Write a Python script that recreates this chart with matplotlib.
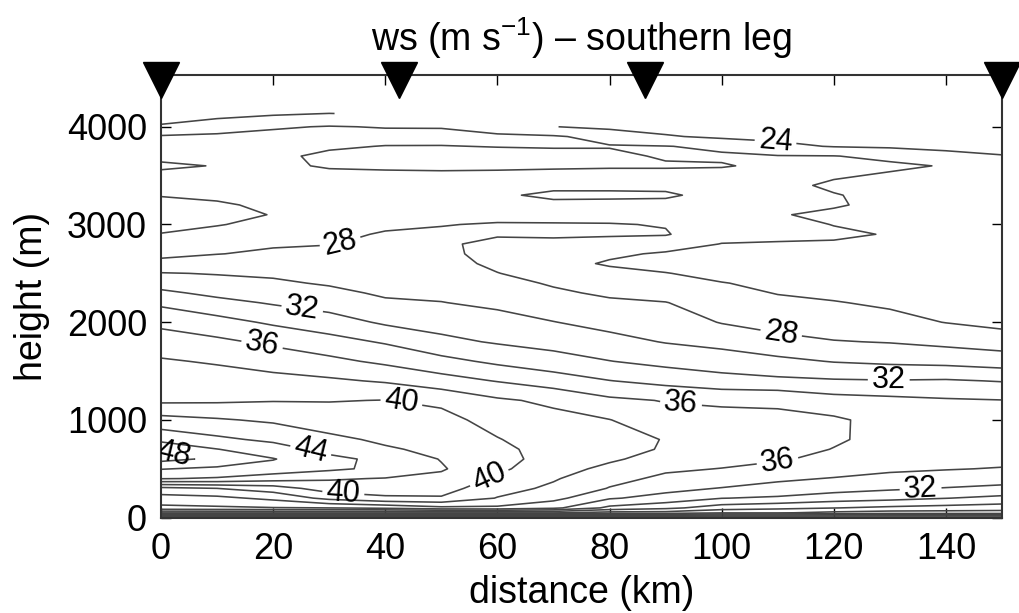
import numpy as np
import matplotlib
matplotlib.use('Agg')
import matplotlib.pyplot as plt

plt.rcParams['font.family'] = ['Liberation Sans', 'DejaVu Sans']
plt.rcParams['mathtext.fontset'] = 'custom'
plt.rcParams['mathtext.rm'] = 'Liberation Sans'
plt.rcParams['mathtext.default'] = 'regular'

# grid: wind speed (m/s) profiles along the leg
distance_km = [0, 10, 20, 30, 40, 50, 60, 70, 80, 90, 100, 110, 120, 130, 140, 150]
height_m = [0, 50, 100, 200, 300, 400, 500, 600, 700, 800, 1000, 1200, 1400, 1600,
            1800, 2000, 2200, 2300, 2400, 2500, 2600, 2700, 2800, 2900, 3000, 3100,
            3200, 3300, 3400, 3500, 3600, 3700, 3800, 3900, 4000, 4150]
nan = np.nan
ws_profiles = [
    # 0 km
    [17, 28.2, 33.5, 35.2, 37.4, 44.1, 46.1, 48.6, 47.8, 45.4, 42.7, 39.6, 39.0, 38.2,
     37.0, 35.5, 33.6, 32.4, 31.2, 30.1, 28.6, 27.5, 26.8, 26.05, 25.6, 25.5,
     25.7, 26.05, 26.5, 26.3, 25.8, 26.3, 26.4, 26.2, 24.3, 22.5],
    # 10 km
    [17, 28.2, 33.7, 35.5, 38.0, 43.8, 45.6, 47.6, 46.05, 44.4, 42.2, 39.7, 38.9, 37.8,
     36.4, 34.7, 32.6, 31.5, 30.6, 29.9, 29.0, 27.95, 27.3, 26.6, 25.9, 25.6,
     25.8, 26.3, 26.6, 26.6, 26.05, 26.5, 26.6, 26.4, 25.0, 23.2],
    # 20 km
    [17, 28.2, 33.9, 36.5, 39.0, 42.9, 45.2, 46.1, 44.9, 43.6, 41.7, 39.9, 38.6, 37.2,
     35.6, 33.7, 31.8, 31.0, 30.3, 29.7, 29.0, 28.3, 27.8, 27.2, 26.5, 26.05,
     26.3, 26.6, 26.8, 26.8, 26.4, 26.3, 26.6, 26.5, 25.8, 23.5],
    # 30 km
    [17, 28.2, 34.0, 38.6, 41.0, 42.2, 44.4, 44.5, 43.4, 42.4, 41.1, 39.9, 38.3, 36.5,
     34.7, 32.9, 31.1, 30.5, 29.8, 29.3, 28.8, 28.4, 27.95, 27.6, 27.2, 26.9,
     26.8, 26.9, 26.9, 26.5, 25.8, 25.7, 26.2, 26.4, 26.1, 23.8],
    # 40 km
    [17, 28.2, 34.5, 39.7, 40.9, 41.9, 43.5, 43.5, 42.2, 41.7, 40.7, 40.05, 37.8, 35.6,
     33.8, 31.7, 30.3, 29.7, 29.4, 29.1, 28.8, 28.6, 28.3, 28.15, 27.7, 27.3,
     27.1, 27.2, 27.0, 26.4, 25.7, 25.6, 25.95, 26.6, 25.9, nan],
    # 50 km
    [17, 28.2, 35.5, 39.8, 40.8, 41.5, 42.2, 41.9, 41.6, 41.2, 40.6, 39.6, 36.8, 34.6,
     32.5, 31.2, 30.05, 29.6, 29.3, 29.0, 28.7, 28.5, 28.3, 28.2, 27.95, 27.5,
     27.3, 27.5, 27.3, 26.4, 25.6, 25.6, 25.95, 26.5, 25.9, nan],
    # 60 km
    [17, 28.2, 35.6, 37.9, 38.8, 39.7, 40.4, 40.8, 40.5, 40.1, 39.3, 38.3, 35.9, 33.6,
     31.8, 30.7, 29.6, 29.0, 28.6, 28.05, 27.6, 27.3, 27.5, 28.2, 28.1, 27.6,
     27.4, 27.7, 27.4, 26.5, 25.6, 25.5, 26.05, 26.3, 25.2, nan],
    # 70 km
    [17, 28.2, 34.5, 36.6, 37.6, 38.2, 38.8, 39.1, 39.2, 39.0, 38.6, 37.6, 35.0, 32.8,
     31.3, 30.05, 28.9, 28.3, 27.8, 27.2, 26.6, 26.8, 27.5, 28.3, 28.1, 27.5,
     27.5, 28.4, 27.5, 26.6, 25.7, 25.6, 26.1, 26.2, 24.05, nan],
    # 80 km
    [17, 27.2, 31.5, 34.2, 35.9, 36.6, 37.5, 38.3, 38.8, 38.8, 38.05, 36.4, 34.05, 32.05,
     30.6, 29.4, 28.3, 27.7, 27.0, 26.5, 25.8, 26.3, 27.0, 28.3, 28.1, 27.3,
     27.4, 28.4, 27.5, 26.6, 25.8, 25.6, 26.1, 25.4, 23.5, nan],
    # 90 km
    [17, 27.2, 30.5, 33.3, 34.6, 35.6, 36.3, 37.2, 37.8, 37.9, 36.8, 35.9, 33.4, 31.4,
     29.9, 29.0, 28.05, 27.4, 26.7, 26.05, 25.5, 25.8, 26.8, 28.15, 27.9, 27.2,
     27.4, 28.3, 27.5, 26.6, 25.8, 26.2, 26.05, 24.2, 23.2, nan],
    # 100 km
    [17, 26.2, 29.0, 32.05, 33.9, 35.2, 35.95, 36.6, 37.0, 37.1, 36.6, 35.7, 32.7, 31.0,
     29.4, 27.9, 27.2, 26.7, 26.05, 25.6, 25.3, 25.5, 25.95, 26.6, 27.0, 26.9,
     27.0, 27.3, 27.0, 26.5, 25.9, 26.2, 25.7, 23.6, 23.0, nan],
    # 110 km
    [17, 26.2, 28.5, 31.7, 33.4, 34.3, 35.4, 36.2, 36.6, 36.8, 36.4, 35.7, 32.4, 30.5,
     28.5, 27.4, 26.5, 25.9, 25.7, 25.5, 25.4, 25.6, 25.9, 26.3, 26.6, 26.1,
     26.5, 26.6, 26.5, 26.4, 26.3, 26.1, 24.4, 23.6, 23.2, nan],
    # 120 km
    [17, 25.5, 28.05, 31.0, 32.8, 33.9, 34.8, 35.5, 35.95, 36.2, 36.3, 34.8, 32.2, 29.9,
     28.1, 26.9, 26.1, 25.6, 25.4, 25.3, 25.3, 25.5, 25.8, 26.3, 25.95, 25.7,
     26.15, 26.1, 25.7, 26.2, 26.4, 26.05, 23.9, 23.4, 23.0, nan],
    # 130 km
    [17, 25.1, 27.6, 30.6, 32.3, 33.5, 34.3, 34.9, 35.3, 35.5, 35.3, 34.5, 32.1, 29.6,
     27.9, 26.6, 25.7, 25.5, 25.3, 25.2, 25.2, 25.3, 25.5, 25.9, 25.6, 25.5,
     25.6, 25.5, 25.4, 25.8, 26.3, 25.6, 23.7, 23.3, 22.9, nan],
    # 140 km
    [17, 25.1, 27.3, 30.05, 31.9, 33.2, 34.1, 34.7, 35.1, 35.2, 35.0, 34.2, 32.2, 29.4,
     27.5, 25.95, 25.5, 25.4, 25.3, 25.2, 25.2, 25.2, 25.3, 25.4, 25.4, 25.3,
     25.3, 25.4, 25.3, 25.5, 25.9, 24.6, 23.5, 23.1, 22.8, nan],
    # 150 km
    [17, 25.1, 27.0, 29.5, 31.5, 32.9, 33.9, 34.5, 34.9, 35.0, 34.7, 34.05, 31.9, 29.0,
     27.1, 25.4, 25.3, 25.25, 25.2, 25.2, 25.1, 25.1, 25.1, 25.1, 25.1, 25.1,
     25.2, 25.3, 25.2, 25.0, 24.8, 24.1, 23.3, 22.9, 22.6, nan],
]
labelled_levels = [24, 28, 32, 36, 40, 44, 48]
plain_levels = [18, 20, 22, 26, 30, 34, 38, 42, 46]
station_km = [0, 42.5, 86.4, 150]

ws = np.ma.masked_invalid(np.array(ws_profiles, dtype=float).T)

fig = plt.figure(figsize=(10.19, 6.13), dpi=100)
ax = fig.add_axes([0.158, 0.1555, 0.8253, 0.7222])

line_kw = dict(colors='#454545', linewidths=1.15)
ax.contour(distance_km, height_m, ws, levels=plain_levels, **line_kw)
cs = ax.contour(distance_km, height_m, ws, levels=labelled_levels, **line_kw)

# label spots picked to match the original figure
label_spots = [(109.6, 3836), (32, 2810), (110.5, 1846), (25.2, 2143), (129.8, 1405),
               (135.5, 277), (18, 1764), (92.7, 1138), (110, 564), (43, 1220),
               (58.8, 380), (32.5, 236), (26.6, 667), (2.5, 690)]
ax.clabel(cs, manual=label_spots, fmt='%d', fontsize=22, colors='k',
          inline=True, inline_spacing=4)

ax.plot(station_km, [4480] * len(station_km), 'v', ms=26, color='k',
        clip_on=False, zorder=5)

ax.set_xlim(0, 150)
ax.set_ylim(0, 4530)
ax.set_xticks(range(0, 141, 20))
ax.set_yticks(range(0, 4001, 1000))
ax.tick_params(direction='in', top=True, right=True, length=7, width=1,
               labelsize=26, pad=10)
for sp in ax.spines.values():
    sp.set_linewidth(1.5)
    sp.set_color('#333333')

ax.set_xlabel('distance (km)', fontsize=27, labelpad=6)
ax.set_ylabel('height (m)', fontsize=27, labelpad=12)
ax.set_title('ws (m s$^{-1}$) \u2013 southern leg', fontsize=27, pad=17)

fig.savefig('out.png', dpi=100)
